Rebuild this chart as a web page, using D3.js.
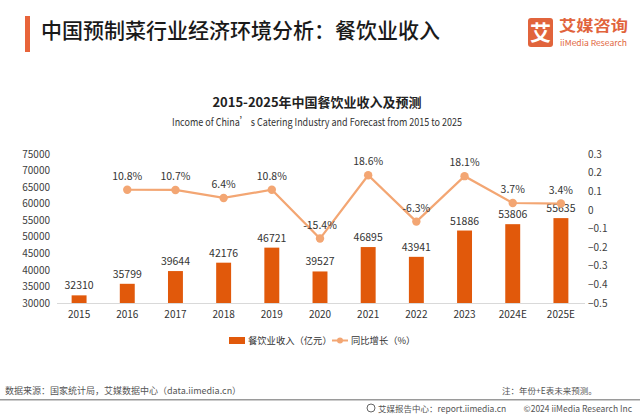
<!DOCTYPE html>
<html><head><meta charset="utf-8">
<script src="https://cdn.jsdelivr.net/npm/d3@7"></script>
<style>
html,body{margin:0;padding:0;background:#fff;}
svg{display:block;font-family:"Noto Sans CJK SC","Noto Sans",sans-serif;}
</style></head>
<body>
<script>
const years = ["2015","2016","2017","2018","2019","2020","2021","2022","2023","2024E","2025E"];
const revenue = [32310,35799,39644,42176,46721,39527,46895,43941,51886,53806,55635];
const growth = [null,0.108,0.107,0.064,0.108,-0.154,0.186,-0.063,0.181,0.037,0.034];
const growthLabels = [null,"10.8%","10.7%","6.4%","10.8%","-15.4%","18.6%","-6.3%","18.1%","3.7%","3.4%"];
const leftTicks = [30000,35000,40000,45000,50000,55000,60000,65000,70000,75000];
const rightTicks = [-0.5,-0.4,-0.3,-0.2,-0.1,0,0.1,0.2,0.3];
const legendLabels = ["餐饮业收入（亿元）","同比增长（%）"];

const W=640,H=416;
const barColor="#e1590b", lineColor="#f3a673";
const svg=d3.select("body").append("svg").attr("width",W).attr("height",H);

// Header
svg.append("rect").attr("x",25).attr("y",16).attr("width",5).attr("height",36).attr("fill","#e8643a");
svg.append("text").attr("x",41).attr("y",38).attr("font-size",21).attr("font-weight",500).attr("fill","#1a1a1a")
  .text("中国预制菜行业经济环境分析：餐饮业收入");
// logo
svg.append("rect").attr("x",528).attr("y",18).attr("width",25).attr("height",29).attr("rx",3).attr("fill","#e1643c");
svg.append("text").attr("x",540.5).attr("y",40).attr("text-anchor","middle").attr("font-size",21).attr("font-weight",700).attr("fill","#fff").text("艾");
svg.append("text").attr("x",559).attr("y",31).attr("font-size",15).attr("font-weight",700).attr("fill","#e1643c")
  .attr("textLength",69).attr("lengthAdjust","spacingAndGlyphs").text("艾媒咨询");
svg.append("text").attr("x",560).attr("y",46).attr("font-size",8).attr("fill","#e1643c")
  .attr("textLength",67).attr("lengthAdjust","spacingAndGlyphs").text("iiMedia Research");

// Chart titles
svg.append("text").attr("x",317).attr("y",107).attr("text-anchor","middle").attr("font-size",13).attr("font-weight",700).attr("fill","#222")
  .text("2015-2025年中国餐饮业收入及预测");
svg.append("text").attr("x",317).attr("y",126).attr("text-anchor","middle").attr("font-size",11).attr("fill","#333")
  .attr("textLength",290).attr("lengthAdjust","spacingAndGlyphs")
  .text("Income of China’ s Catering Industry and Forecast from 2015 to 2025");

// Scales
const x=d3.scaleBand().domain(years).range([55,585]).paddingInner(0.69).paddingOuter(0.345);
const yL=d3.scaleLinear().domain([30000,75000]).range([303,154]);
const yR=d3.scaleLinear().domain([-0.5,0.3]).range([303,154]);

// Left axis
const la=svg.append("g").attr("transform","translate(55,0)")
  .call(d3.axisLeft(yL).tickValues(leftTicks).tickSize(0).tickPadding(5).tickFormat(d3.format("d")));
la.select(".domain").remove();
la.selectAll("text").attr("font-size",10).attr("fill","#404040").attr("font-family","Noto Sans CJK SC");
// Right axis
const ra=svg.append("g").attr("transform","translate(585,0)")
  .call(d3.axisRight(yR).tickValues(rightTicks).tickSize(0).tickPadding(3).tickFormat(d=>d3.format("")(+d.toFixed(1))));
ra.select(".domain").remove();
ra.selectAll("text").attr("font-size",10).attr("fill","#404040").attr("font-family","Noto Sans CJK SC");

// bars
svg.append("g").selectAll("rect").data(years).join("rect")
  .attr("x",d=>x(d)).attr("width",x.bandwidth())
  .attr("y",(d,i)=>yL(revenue[i])).attr("height",(d,i)=>yL(30000)-yL(revenue[i]))
  .attr("fill",barColor);
// baseline
svg.append("line").attr("x1",57).attr("x2",585).attr("y1",303.5).attr("y2",303.5).attr("stroke","#d9d9d9").attr("stroke-width",1);

// x labels
const xa=svg.append("g").attr("transform","translate(0,303)")
  .call(d3.axisBottom(x).tickSize(0).tickPadding(8));
xa.select(".domain").remove();
xa.selectAll("text").attr("font-size",10).attr("fill","#333").attr("font-family","Noto Sans CJK SC");

// bar labels
svg.append("g").selectAll("text").data(years).join("text")
  .attr("x",d=>x(d)+x.bandwidth()/2).attr("y",(d,i)=>yL(revenue[i])-6)
  .attr("text-anchor","middle").attr("font-size",10.5).attr("fill","#333")
  .text((d,i)=>revenue[i]);

// line
const pts=years.map((d,i)=>({y:d,v:growth[i],l:growthLabels[i]})).filter(p=>p.v!==null);
const line=d3.line().x(p=>x(p.y)+x.bandwidth()/2).y(p=>yR(p.v));
svg.append("path").datum(pts).attr("d",line).attr("fill","none").attr("stroke",lineColor).attr("stroke-width",2.2);
svg.append("g").selectAll("circle").data(pts).join("circle")
  .attr("cx",p=>x(p.y)+x.bandwidth()/2).attr("cy",p=>yR(p.v)).attr("r",4.2).attr("fill",lineColor);
svg.append("g").selectAll("text").data(pts).join("text")
  .attr("x",p=>x(p.y)+x.bandwidth()/2).attr("y",p=>yR(p.v)-10)
  .attr("text-anchor","middle").attr("font-size",10.5).attr("fill","#333")
  .text(p=>p.l);

// legend
const lg=svg.append("g");
lg.append("rect").attr("x",229).attr("y",337).attr("width",16).attr("height",7).attr("fill",barColor);
lg.append("text").attr("x",248).attr("y",344).attr("font-size",9.3).attr("fill","#333").text(legendLabels[0]);
lg.append("line").attr("x1",332).attr("x2",348).attr("y1",340.5).attr("y2",340.5).attr("stroke",lineColor).attr("stroke-width",2);
lg.append("circle").attr("cx",340).attr("cy",340.5).attr("r",3).attr("fill",lineColor);
lg.append("text").attr("x",351).attr("y",344).attr("font-size",9.3).attr("fill","#333").text(legendLabels[1]);

// footer
svg.append("text").attr("x",5).attr("y",394).attr("font-size",9).attr("fill","#555")
  .text("数据来源：国家统计局，艾媒数据中心（data.iimedia.cn）");
svg.append("text").attr("x",502).attr("y",394).attr("font-size",8.5).attr("fill","#555")
  .text("注：年份+E表未来预测。");
svg.append("rect").attr("x",0).attr("y",399).attr("width",640).attr("height",1.5).attr("fill","#9a9a9a");
// footer icon
svg.append("circle").attr("cx",371).attr("cy",408).attr("r",4).attr("fill","none").attr("stroke","#666").attr("stroke-width",1);
svg.append("text").attr("x",378).attr("y",411.5).attr("font-size",8.5).attr("fill","#555")
  .text("艾媒报告中心：report.iimedia.cn");
svg.append("text").attr("x",632).attr("y",411.5).attr("text-anchor","end").attr("font-size",8.5).attr("fill","#555")
  .text("©2024  iiMedia Research Inc");
</script>
</body></html>
